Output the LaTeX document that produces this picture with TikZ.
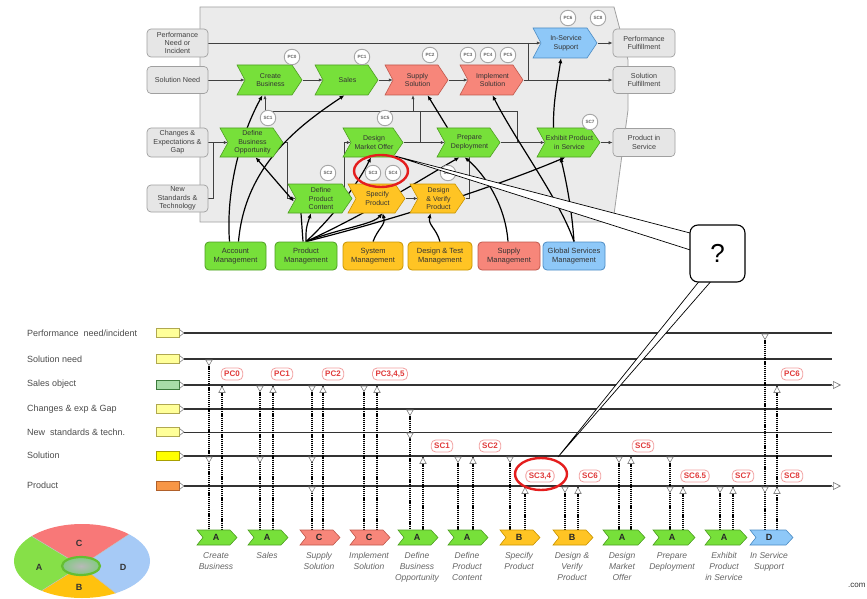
\documentclass[tikz,border=0pt]{standalone}
\usepackage{fontspec}
\setmainfont{Liberation Sans}
\usetikzlibrary{arrows.meta}
\definecolor{cgreen}{HTML}{77E03A}
\definecolor{cgreenD}{HTML}{4E9E22}
\definecolor{csalmon}{HTML}{F7867A}
\definecolor{csalmonD}{HTML}{C0584C}
\definecolor{corange}{HTML}{FFC424}
\definecolor{corangeD}{HTML}{C89400}
\definecolor{cblue}{HTML}{8EC8F8}
\definecolor{cblueD}{HTML}{4C8CC4}
\definecolor{cgrayF}{HTML}{E6E6E6}
\definecolor{cgrayD}{HTML}{A0A0A0}
\definecolor{careaF}{HTML}{EBEBEB}
\definecolor{cred}{HTML}{E41E1E}
\definecolor{cbadge}{HTML}{E03A3A}
\definecolor{cbadgeD}{HTML}{F2A0A0}
\definecolor{lyel}{HTML}{FFFF99}
\definecolor{lyelD}{HTML}{B0A850}
\definecolor{syel}{HTML}{FFFF00}
\definecolor{syelD}{HTML}{A8A000}
\definecolor{porange}{HTML}{F79646}
\definecolor{porangeD}{HTML}{B0602A}
\definecolor{sgreen}{HTML}{A8DCA8}
\definecolor{sgreenD}{HTML}{3C7A3C}
\definecolor{lgC}{HTML}{F87878}
\definecolor{lgA}{HTML}{86E048}
\definecolor{lgD}{HTML}{A6CAF6}
\definecolor{lgB}{HTML}{FFC20E}
\pgfdeclarelayer{area}
\pgfdeclarelayer{back}
\pgfsetlayers{area,back,main}
\tikzset{
 ctext/.style={align=center, inner sep=0pt, font=\fontsize{7}{8.4}\selectfont, text=black!80},
 chevG/.style={fill=cgreen, draw=cgreenD, line width=0.6pt},
 chevS/.style={fill=csalmon, draw=csalmonD, line width=0.6pt},
 chevO/.style={fill=corange, draw=corangeD, line width=0.6pt},
 chevB/.style={fill=cblue, draw=cblueD, line width=0.6pt},
 gbox/.style={rectangle, rounded corners=4pt, fill=cgrayF, draw=cgrayD, line width=0.7pt, align=center, inner sep=0pt, font=\fontsize{7.2}{8.4}\selectfont, text=black!75},
 mbox/.style={rectangle, rounded corners=4pt, line width=0.8pt, align=center, inner sep=0pt, minimum height=28pt, font=\fontsize{7.5}{9}\selectfont, text=black!80},
 flow/.style={draw=black!75, line width=0.6pt, -{Latex[length=4pt,width=3.2pt]}},
 plainln/.style={draw=black!75, line width=0.6pt},
 thk/.style={draw=black, line width=1.2pt, -{Latex[length=5pt,width=4.2pt]}},
 tbadge/.style={circle, draw=gray!70, line width=0.9pt, fill=white, minimum size=15.5pt, inner sep=0pt, font=\fontsize{4.6}{5}\selectfont\bfseries, text=black!60},
 rowlab/.style={anchor=west, inner sep=0pt, font=\fontsize{9}{10}\selectfont, text=black!70},
 rowbox/.style={rectangle, minimum width=23pt, minimum height=9pt, inner sep=0pt, line width=0.9pt},
 ptrs/.style={draw=gray, line width=0.6pt},
 tl/.style={draw=black!80, line width=1.7pt},
 tlthin/.style={draw=black!80, line width=0.8pt},
 opena/.style={draw=gray, line width=0.7pt, -{Triangle[open,length=8pt,width=8pt]}},
 vdot/.style={draw=black, line width=1.3pt, dash pattern=on 1.2pt off 0.9pt},
 mk/.style={draw=gray, fill=white, line width=0.6pt},
 rbadge/.style={rectangle, rounded corners=4.5pt, draw=cbadgeD, line width=0.8pt, fill=white, text=cbadge, font=\fontsize{8}{8}\selectfont\bfseries, minimum height=12pt, inner xsep=3pt, inner ysep=0pt},
 bletter/.style={inner sep=0pt, font=\fontsize{9}{9}\selectfont\bfseries, text=black!85},
 blabel/.style={anchor=north, inner sep=0pt, align=center, font=\fontsize{8.5}{11}\selectfont\itshape, text=black!60},
 redring/.style={draw=cred, line width=2.4pt},
 wedge/.style={fill=white, draw=black, line width=0.7pt, line join=miter},
 qbox/.style={rectangle, rounded corners=8pt, draw=black, line width=1.1pt, fill=white, minimum width=55pt, minimum height=57pt, inner sep=0pt, font=\fontsize{26}{26}\selectfont},
 lgl/.style={inner sep=0pt, font=\fontsize{9}{9}\selectfont\bfseries, text=black!80}
}
\newcommand{\chev}[7]{%
  \path[#6] (#2,#3) -- ({#4-10},#3) -- (#4,{(#3+#5)/2}) -- ({#4-10},#5) -- (#2,#5) -- ({#2+8},{(#3+#5)/2}) -- cycle;
  \node[ctext, minimum width={#4-#2}, minimum height={#5-#3}] (#1) at ({(#2+#4)/2+1},{(#3+#5)/2}) {#7};}
\newcommand{\bchev}[6]{%
  \path[#4] (#2,530) -- ({#3-7},530) -- (#3,537.5) -- ({#3-7},545) -- (#2,545) -- ({#2+6},537.5) -- cycle;
  \node[bletter] (#1) at ({#2+19},537.5) {#5};
  \node[blabel] (#1t) at ({#2+19},552.5) {#6};}
\newcommand{\mdn}[2]{\path[mk] ({#1-3.2},{#2+1}) -- ({#1+3.2},{#2+1}) -- (#1,{#2+6.5}) -- cycle;}
\newcommand{\mup}[2]{\path[mk] (#1,{#2+1.5}) -- ({#1+3.2},{#2+7.5}) -- ({#1-3.2},{#2+7.5}) -- cycle;}
\newcommand{\vd}[2]{\draw[vdot] (#1,{#2+1}) -- (#1,530);}
\begin{document}
\begin{tikzpicture}[x=1pt,y=-1pt]
\useasboundingbox (0,0) rectangle (867,599);
% ---------------- top diagram ----------------
\begin{pgfonlayer}{area}
\fill[white] (0,0) rectangle (867,599);
\path[fill=careaF, draw=cgrayD, line width=0.8pt] (200,7) -- (614,7) -- (628,60) -- (628,110) -- (613,222) -- (200,222) -- cycle;
\end{pgfonlayer}
% input / output boxes
\node[gbox, minimum width=61pt, minimum height=28pt] (inPerf) at (177.5,43) {Performance\\Need or\\Incident};
\node[gbox, minimum width=61pt, minimum height=27pt] (inSol) at (177.5,80) {Solution Need};
\node[gbox, minimum width=61pt, minimum height=29pt] (inChg) at (177.5,142.5) {Changes \&\\Expectations \&\\Gap};
\node[gbox, minimum width=61pt, minimum height=27pt] (inNew) at (177.5,198.5) {New\\Standards \&\\Technology};
\node[gbox, minimum width=62pt, minimum height=28pt] (outPerf) at (644,43) {Performance\\Fulfillment};
\node[gbox, minimum width=62pt, minimum height=27pt] (outSol) at (644,80) {Solution\\Fulfillment};
\node[gbox, minimum width=62pt, minimum height=28pt] (outProd) at (644,142.5) {Product in\\Service};
% chevrons
\chev{cb}{237}{65}{302}{95}{chevG}{Create\\Business}
\chev{sa}{315}{65}{378}{95}{chevG}{Sales}
\chev{ss}{385}{65}{448}{95}{chevS}{Supply\\Solution}
\chev{is}{460}{65}{523}{95}{chevS}{Implement\\Solution}
\chev{iss}{533}{28}{597}{58}{chevB}{In-Service\\Support}
\chev{dbo}{220}{128}{283}{157}{chevG}{Define\\Business\\Opportunity}
\chev{dmo}{343}{128}{403}{157}{chevG}{Design\\Market Offer}
\chev{pd}{437}{128}{500}{157}{chevG}{Prepare\\Deployment}
\chev{ep}{537}{128}{600}{157}{chevG}{Exhibit Product\\in Service}
\chev{dpc}{288}{184}{352}{213}{chevG}{Define\\Product\\Content}
\chev{sp}{348}{184}{405}{213}{chevO}{Specify\\Product}
\chev{dv}{410}{184}{465}{213}{chevO}{Design\\\& Verify\\Product}
% management boxes
\node[mbox, fill=cgreen, draw=cgreenD, minimum width=61pt] (am) at (235.5,256) {Account\\Management};
\node[mbox, fill=cgreen, draw=cgreenD, minimum width=62pt] (pm) at (306,256) {Product\\Management};
\node[mbox, fill=corange, draw=corangeD, minimum width=60pt] (sm) at (373,256) {System\\Management};
\node[mbox, fill=corange, draw=corangeD, minimum width=64pt] (dtm) at (440,256) {Design \& Test\\Management};
\node[mbox, fill=csalmon, draw=csalmonD, minimum width=62pt] (spm) at (509,256) {Supply\\Management};
\node[mbox, fill=cblue, draw=cblueD, minimum width=62pt] (gsm) at (574,256) {Global Services\\Management};
% junctions
\coordinate (jTop) at (528,43);
\coordinate (jBot) at (528,80);
\coordinate (jNew) at (213,142.5);
\coordinate (jDbo) at (287,198.5);
\coordinate (jDpc) at (344,198.5);
\coordinate (jA) at (265,111);
\coordinate (jB) at (413,111);
\coordinate (jC) at (420,111);
\coordinate (jD) at (517,111);
\begin{pgfonlayer}{back}
\draw[flow] (inPerf.east) -- ([xshift=7pt]iss.west);
\draw[flow] (iss.east) -- (outPerf.west);
\draw[flow] (inSol.east) -- ([xshift=7pt]cb.west);
\draw[flow] (cb.east) -- ([xshift=7pt]sa.west);
\draw[flow] (sa.east) -- ([xshift=7pt]ss.west);
\draw[flow] (ss.east) -- ([xshift=7pt]is.west);
\draw[flow] (is.east) -- (outSol.west);
\draw[plainln] (jTop) -- (jBot);
\draw[flow] (inChg.east) -- ([xshift=7pt]dbo.west);
\draw[plainln] (inNew.east) -| (jNew);
\draw[flow] (dbo.east) -| (jDbo) -- ([xshift=7pt]dpc.west);
\draw[flow] (jDpc) |- ([xshift=7pt]dmo.west);
\draw[flow] (sp.east) -- ([xshift=7pt]dv.west);
\draw[plainln] (dv.east) -| (pd.south);
\draw[flow] (dmo.east) -- ([xshift=7pt]pd.west);
\draw[flow] (pd.east) -- ([xshift=7pt]ep.west);
\draw[flow] (ep.east) -- (outProd.west);
\draw[plainln] (jA) -- (jD);
\draw[flow] (jA) -- (jA |- cb.south);
\draw[flow] (jB) -- (jB |- ss.south);
\draw[plainln] (jC) -- (jC |- dmo.east);
\draw[plainln] (jD) -- (jD |- pd.east);
% thick relations
\draw[thk] ([xshift=-6pt]am.north) .. controls (226,195) and (238,140) .. ([xshift=-8pt]cb.south);
\draw[thk] ([xshift=3pt]am.north) .. controls (245,165) and (300,125) .. ([xshift=-3pt]sa.south);
\draw[thk, {Latex[length=5pt,width=4.2pt]}-{Latex[length=5pt,width=4.2pt]}] ([xshift=3pt]dbo.south) -- ([xshift=5pt,yshift=-3pt]dpc.west);
\draw[draw=black, line width=1.2pt] ([xshift=-3pt]pm.north) -- ([xshift=-20pt]dpc.south);
\draw[thk] (pm.north) .. controls (306,228) .. ([xshift=-10pt]dpc.south);
\draw[thk] (pm.north) .. controls (335,215) and (360,180) .. ([xshift=-3pt]dmo.south);
\draw[thk] (pm.north) .. controls (340,228) and (372,225) .. ([xshift=5pt]sp.south);
\draw[thk] (pm.north) .. controls (400,218) and (500,185) .. ([xshift=-4pt]ep.south);
\draw[thk] (pm.north) .. controls (370,212) and (420,180) .. ([xshift=-10pt]pd.south);
\draw[thk] (sm.north) .. controls (378,228) and (386,225) .. ([xshift=5pt]sp.south);
\draw[thk] (dtm.north) .. controls (436,228) and (428,225) .. ([xshift=-8pt]dv.south);
\draw[thk] ([xshift=-1pt]spm.north) .. controls (505,200) and (480,170) .. ([xshift=-5pt]pd.south);
\draw[thk] ([xshift=-22pt]pd.north) -- ([xshift=10pt]ss.south);
\draw[thk] (gsm.north) .. controls (560,200) and (515,140) .. (is.south);
\draw[thk] (gsm.north) .. controls (572,210) and (566,180) .. ([xshift=-9pt]ep.south);
\draw[thk] ([xshift=-16pt]ep.north) .. controls (553,100) and (558,80) .. ([xshift=-5pt]iss.south);
\end{pgfonlayer}
% top badges
\node[tbadge] (bPC0) at (292,57) {PC0};
\node[tbadge] (bPC1) at (362,57) {PC1};
\node[tbadge] (bPC2) at (430,55) {PC2};
\node[tbadge] (bPC3) at (468,55) {PC3};
\node[tbadge] (bPC4) at (488,55) {PC4};
\node[tbadge] (bPC5) at (508,55) {PC5};
\node[tbadge] (bPC6) at (568,18) {PC6};
\node[tbadge] (bSC8) at (598,18) {SC8};
\node[tbadge] (bSC1) at (268,118) {SC1};
\node[tbadge] (bSC5) at (385,118) {SC5};
\node[tbadge] (bSC7) at (590,122) {SC7};
\node[tbadge] (bSC2) at (328,173) {SC2};
\node[tbadge] (bSC3) at (373,173) {SC3};
\node[tbadge] (bSC4) at (393,173) {SC4};
\node[tbadge] (bSC6) at (448,173) {SC6};
% ---------------- bottom diagram ----------------
\node[rowlab] (tPerf) at (27,333) {Performance\ \ need/incident};
\node[rowlab] (tSN) at (27,359) {Solution need};
\node[rowlab] (tSO) at (27,384.5) {Sales object};
\node[rowlab] (tCh) at (27,409) {Changes \& exp \& Gap};
\node[rowlab] (tNS) at (27,432) {New\ \ standards \& techn.};
\node[rowlab] (tSl) at (27,455.5) {Solution};
\node[rowlab] (tPr) at (27,485.5) {Product};
\node[rowbox, fill=lyel, draw=lyelD] (rPerf) at (167.5,333) {};
\node[rowbox, fill=lyel, draw=lyelD] (rSN) at (167.5,359) {};
\node[rowbox, fill=sgreen, draw=sgreenD] (rSO) at (167.5,385) {};
\node[rowbox, fill=lyel, draw=lyelD] (rCh) at (167.5,409) {};
\node[rowbox, fill=lyel, draw=lyelD] (rNS) at (167.5,432) {};
\node[rowbox, fill=syel, draw=syelD] (rSl) at (167.5,456) {};
\node[rowbox, fill=porange, draw=porangeD] (rPr) at (167.5,486) {};
\foreach \r in {rPerf,rSN,rSO,rCh,rNS,rSl,rPr}{
  \draw[ptrs] ([yshift=3.5pt]\r.east) -- ([xshift=4.5pt]\r.east) -- ([yshift=-3.5pt]\r.east);
}
\coordinate (ePerf) at (832,333);
\coordinate (eSN) at (832,359);
\coordinate (eSO) at (832,385);
\coordinate (eCh) at (832,409);
\coordinate (eNS) at (832,432);
\coordinate (eSl) at (832,456);
\coordinate (ePr) at (832,486);
\coordinate (aSO) at (841,385);
\coordinate (aPr) at (841,486);
\draw[tl] ([xshift=4.5pt]rPerf.east) -- (ePerf);
\draw[tl] ([xshift=4.5pt]rSN.east) -- (eSN);
\draw[tl] ([xshift=4.5pt]rSO.east) -- (eSO);
\draw[tl] ([xshift=4.5pt]rCh.east) -- (eCh);
\draw[tlthin] ([xshift=4.5pt]rNS.east) -- (eNS);
\draw[tl] ([xshift=4.5pt]rSl.east) -- (eSl);
\draw[tl] ([xshift=4.5pt]rPr.east) -- (ePr);
\draw[opena] ([xshift=-1pt]eSO) -- (aSO);
\draw[opena] ([xshift=-1pt]ePr) -- (aPr);
% dotted verticals
\vd{209}{359} \vd{222}{385}
\vd{260}{385} \vd{273}{385}
\vd{312}{385} \vd{323}{385}
\vd{364}{385} \vd{377}{385}
\vd{410}{409} \vd{423}{456}
\vd{458}{456} \vd{473}{456}
\vd{510}{456} \vd{525}{486}
\vd{565}{486} \vd{578}{486}
\vd{619}{456} \vd{631}{456}
\vd{670}{456} \vd{683}{486}
\vd{720}{486} \vd{733}{486}
\vd{765}{333} \vd{777}{385}
% markers
\mdn{209}{359} \mdn{209}{456} \mup{222}{385}
\mdn{260}{385} \mdn{260}{456} \mup{273}{385}
\mdn{312}{385} \mdn{312}{456} \mdn{312}{486} \mup{323}{385}
\mdn{364}{385} \mup{377}{385}
\mdn{410}{409} \mdn{410}{432} \mup{423}{456}
\mdn{458}{456} \mup{473}{456}
\mdn{510}{456} \mup{525}{486}
\mdn{565}{486} \mup{578}{486}
\mdn{619}{456} \mup{631}{456}
\mdn{670}{456} \mdn{670}{486} \mup{683}{486}
\mdn{720}{486} \mup{733}{486}
\mdn{765}{333} \mdn{765}{486} \mup{777}{385} \mup{777}{486}
% red badges
\node[rbadge] (lPC0) at (232,374) {PC0};
\node[rbadge] (lPC1) at (282,374) {PC1};
\node[rbadge] (lPC2) at (333,374) {PC2};
\node[rbadge] (lPC345) at (390,374) {PC3,4,5};
\node[rbadge] (lSC1) at (442,446) {SC1};
\node[rbadge] (lSC2) at (490,446) {SC2};
\node[rbadge] (lSC34) at (540,476) {SC3,4};
\node[rbadge] (lSC6) at (590,476) {SC6};
\node[rbadge] (lSC5) at (643,446) {SC5};
\node[rbadge] (lSC65) at (695,476) {SC6.5};
\node[rbadge] (lSC7) at (743,476) {SC7};
\node[rbadge] (lPC6) at (792,374) {PC6};
\node[rbadge] (lSC8) at (792,476) {SC8};
% bottom chevrons
\bchev{bc1}{197}{237}{chevG}{A}{Create\\Business}
\bchev{bc2}{248}{288}{chevG}{A}{Sales}
\bchev{bc3}{300}{340}{chevS}{C}{Supply\\Solution}
\bchev{bc4}{350}{390}{chevS}{C}{Implement\\Solution}
\bchev{bc5}{398}{438}{chevG}{A}{Define\\Business\\Opportunity}
\bchev{bc6}{448}{488}{chevG}{A}{Define\\Product\\Content}
\bchev{bc7}{500}{540}{chevO}{B}{Specify\\Product}
\bchev{bc8}{553}{593}{chevO}{B}{Design \&\\Verify\\Product}
\bchev{bc9}{603}{645}{chevG}{A}{Design\\Market\\Offer}
\bchev{bc10}{653}{695}{chevG}{A}{Prepare\\Deployment}
\bchev{bc11}{705}{747}{chevG}{A}{Exhibit\\Product\\in Service}
\bchev{bc12}{750}{793}{chevB}{D}{In Service\\Support}
% legend ellipse
\begin{scope}
  \clip (82,561) ellipse [x radius=68pt, y radius=37pt];
  \fill[lgC] (81,566) -- (-63,479) -- (222,473) -- cycle;
  \fill[lgA] (81,566) -- (-63,479) -- (-48,647) -- cycle;
  \fill[lgD] (81,566) -- (222,473) -- (192,653) -- cycle;
  \fill[lgB] (81,566) -- (-48,647) -- (192,653) -- cycle;
  \draw[gray!50, line width=0.5pt] (81,566) -- (-63,479) (81,566) -- (222,473) (81,566) -- (-48,647) (81,566) -- (192,653);
\end{scope}
\shade[inner color=gray!55, outer color=green!40!gray!70] (81,566) ellipse [x radius=19pt, y radius=9pt];
\draw[draw=cgreen!85!black, line width=2.2pt] (81,566) ellipse [x radius=19pt, y radius=9pt];
\node[lgl] (lgCt) at (79,543) {C};
\node[lgl] (lgAt) at (39,567) {A};
\node[lgl] (lgDt) at (123,567) {D};
\node[lgl] (lgBt) at (79,587) {B};
\node[anchor=west, inner sep=0pt, font=\fontsize{8}{8}\selectfont, text=black!80] (dotcom) at (848,585) {.com};
% red rings
\draw[redring] (381,171) ellipse [x radius=27pt, y radius=16pt];
\draw[redring] (541,474) ellipse [x radius=26pt, y radius=16pt];
% callout
\coordinate (w1) at (395,156);
\coordinate (w2) at (558,457);
\path[wedge] (w1) -- (692,233.5) -- (692,250.5) -- cycle;
\path[wedge] (w2) -- (701,279) -- (713,279) -- cycle;
\node[qbox] (q) at (717.5,253.5) {?};
\end{tikzpicture}
\end{document}
